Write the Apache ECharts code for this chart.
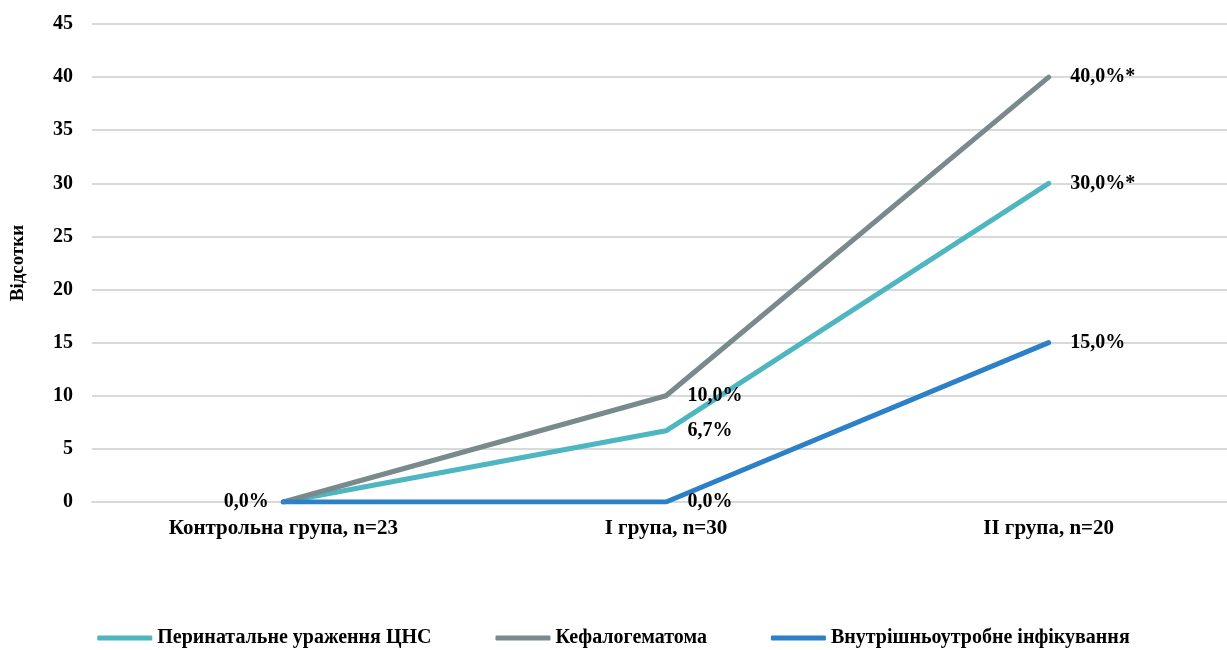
<!DOCTYPE html>
<html>
<head>
<meta charset="utf-8">
<script src="https://cdn.jsdelivr.net/npm/echarts@6/dist/echarts.min.js"></script>
<style>
  html, body { margin: 0; padding: 0; background: #fff; }
  #chart { width: 1227px; height: 650px; }
</style>
</head>
<body>
<div id="chart"></div>
<script>
// Groups on the horizontal axis
const groups = ['Контрольна група, n=23', 'I група, n=30', 'II група, n=20'];

// Series names
const seriesNames = ['Перинатальне ураження ЦНС', 'Кефалогематома', 'Внутрішньоутробне інфікування'];

// Percent values per group
const cnsValues = [0, 6.7, 30];
const cephalValues = [0, 10, 40];
const infectValues = [0, 0, 15];

// Significance marks appended to the value labels
const cnsMarks = ['', '', '*'];
const cephalMarks = ['', '', '*'];
const infectMarks = ['', '', ''];

// Which points carry a value label
const cnsLabelShown = [false, true, true];
const cephalLabelShown = [false, true, true];
const infectLabelShown = [true, true, true];

// Y axis ticks
const yMin = 0, yMax = 45, yStep = 5;

const colors = ['#4db6c1', '#788a8c', '#2b80c8'];
const font = '"Liberation Serif", "Times New Roman", serif';

function fmt(v, mark) {
  return v.toFixed(1).replace('.', ',') + '%' + mark;
}

function buildData(values, marks, shown) {
  return values.map((v, i) => ({
    value: v,
    label: {
      show: shown[i],
      position: i === 0 ? 'left' : 'right',
      distance: i === 0 ? 14 : 21,
      formatter: fmt(v, marks[i])
    }
  }));
}

const labelStyle = {
  show: false,
  color: '#000',
  fontFamily: font,
  fontWeight: 'bold',
  fontSize: 20
};

function lineSeries(name, values, marks, shown, color) {
  return {
    name: name,
    type: 'line',
    data: buildData(values, marks, shown),
    showSymbol: true,
    symbol: 'circle',
    symbolSize: 1,
    lineStyle: { width: 5, color: color, cap: 'round', join: 'round' },
    itemStyle: { color: color },
    label: labelStyle,
    labelLayout: { hideOverlap: false },
    emphasis: { disabled: true },
    animation: false
  };
}

const chart = echarts.init(document.getElementById('chart'), null, { renderer: 'canvas' });
chart.setOption({
  animation: false,
  color: colors,
  grid: {
    left: 92, width: 1148, top: 24, height: 478,
    containLabel: false,
    outerBoundsMode: 'none'
  },
  legend: {
    top: 623,
    left: 'center',
    icon: 'roundRect',
    itemWidth: 55,
    itemHeight: 5,
    itemGap: 64,
    textStyle: { color: '#000', fontFamily: font, fontWeight: 'bold', fontSize: 20 },
    data: seriesNames
  },
  xAxis: {
    type: 'category',
    data: groups,
    boundaryGap: true,
    axisLine: { show: true, lineStyle: { color: '#d9d9d9', width: 2 } },
    axisTick: { show: false },
    axisLabel: { color: '#000', fontFamily: font, fontWeight: 'bold', fontSize: 21, margin: 16 }
  },
  yAxis: {
    type: 'value',
    min: yMin,
    max: yMax,
    interval: yStep,
    name: 'Відсотки',
    nameLocation: 'middle',
    nameRotate: 90,
    nameGap: 64,
    nameTextStyle: { color: '#000', fontFamily: font, fontWeight: 'bold', fontSize: 19 },
    axisLine: { show: false },
    axisTick: { show: false },
    axisLabel: { color: '#000', fontFamily: font, fontWeight: 'bold', fontSize: 20, margin: 19 },
    splitLine: { lineStyle: { color: '#d9d9d9', width: 2 } }
  },
  series: [
    lineSeries(seriesNames[0], cnsValues, cnsMarks, cnsLabelShown, colors[0]),
    lineSeries(seriesNames[1], cephalValues, cephalMarks, cephalLabelShown, colors[1]),
    lineSeries(seriesNames[2], infectValues, infectMarks, infectLabelShown, colors[2])
  ]
});
</script>
</body>
</html>
